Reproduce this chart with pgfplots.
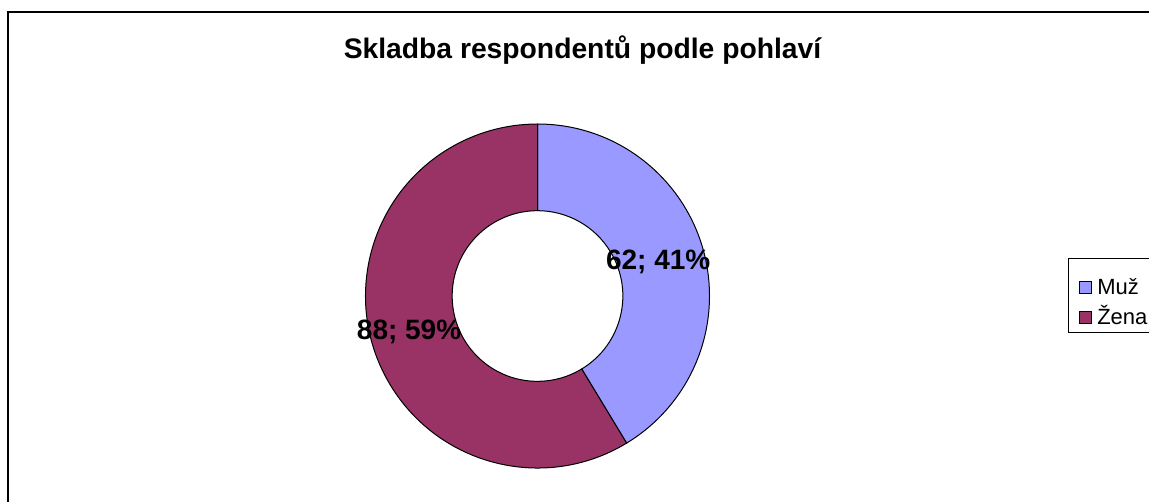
\documentclass[border=0pt]{standalone}
\usepackage{fontspec}
\setmainfont{Liberation Sans}
\usepackage{pgfplots}
\usepackage{pgfplotstable}
\pgfplotsset{compat=1.18}
\definecolor{muz}{HTML}{9999FF}
\definecolor{zena}{HTML}{993366}
\pgfplotstableread{
label value
Muž 62
Žena 88
}\donutdata
\begin{document}
\begin{tikzpicture}
\useasboundingbox (0,0) rectangle (861.75pt,375.75pt);
\pgfplotstablegetelem{0}{value}\of\donutdata \let\va\pgfplotsretval
\pgfplotstablegetelem{1}{value}\of\donutdata \let\vb\pgfplotsretval
\pgfplotstablegetelem{0}{label}\of\donutdata \let\la\pgfplotsretval
\pgfplotstablegetelem{1}{label}\of\donutdata \let\lb\pgfplotsretval
\pgfmathsetmacro\tot{\va+\vb}
\pgfmathsetmacro\sweepA{\va/\tot*360}
\pgfmathsetmacro\endA{90-\sweepA}
\pgfmathsetmacro\midA{90-\sweepA/2}
\pgfmathsetmacro\midB{\endA-(360-\sweepA)/2}
\pgfmathtruncatemacro\pa{round(\va/\tot*100)}
\pgfmathtruncatemacro\pb{round(\vb/\tot*100)}
\def\R{129pt}
\def\r{64pt}
\begin{axis}[at={(0pt,0pt)}, anchor=south west, scale only axis,
  width=861.75pt, height=375.75pt,
  xmin=0, xmax=1149, ymin=0, ymax=501, y dir=reverse,
  axis lines=none, clip=false]
% frame
\draw[line width=1.5pt] (axis cs:8,540) -- (axis cs:8,12) -- (axis cs:1190,12);
% title
\node[font=\fontsize{21.2}{25}\selectfont\bfseries, anchor=base] at (axis cs:582.5,58.5) {Skladba respondentů podle pohlaví};
\coordinate (c) at (axis cs:537.5,296);
% Muž sector
\filldraw[fill=muz, draw=black, line width=0.75pt]
  ([shift={(90:\R)}]c) arc[start angle=90, end angle=\endA, radius=\R]
  -- ([shift={(\endA:\r)}]c) arc[start angle=\endA, end angle=90, radius=\r] -- cycle;
% Žena sector
\filldraw[fill=zena, draw=black, line width=0.75pt]
  ([shift={(\endA:\R)}]c) arc[start angle=\endA, end angle=-270, radius=\R]
  -- ([shift={(-270:\r)}]c) arc[start angle=-270, end angle=\endA, radius=\r] -- cycle;
% labels
\node[font=\fontsize{21}{25}\selectfont\bfseries] at ([shift={(\midA:94pt)}]c) {\va; \pa\%};
\node[font=\fontsize{21}{25}\selectfont\bfseries] at ([shift={(\midB:100pt)}]c) {\vb; \pb\%};
% legend
\draw[line width=0.75pt, fill=white] (axis cs:1068.5,258.5) rectangle (axis cs:1175,332);
\filldraw[fill=muz, draw=black, line width=0.6pt] (axis cs:1079.5,281) rectangle (axis cs:1091.5,293);
\filldraw[fill=zena, draw=black, line width=0.6pt] (axis cs:1079.5,311) rectangle (axis cs:1091.5,323);
\node[font=\fontsize{16.5}{19}\selectfont, anchor=base west, inner sep=0pt] at (axis cs:1097,294) {\la};
\node[font=\fontsize{16.5}{19}\selectfont, anchor=base west, inner sep=0pt] at (axis cs:1097,324) {\lb};
\end{axis}
\end{tikzpicture}
\end{document}
